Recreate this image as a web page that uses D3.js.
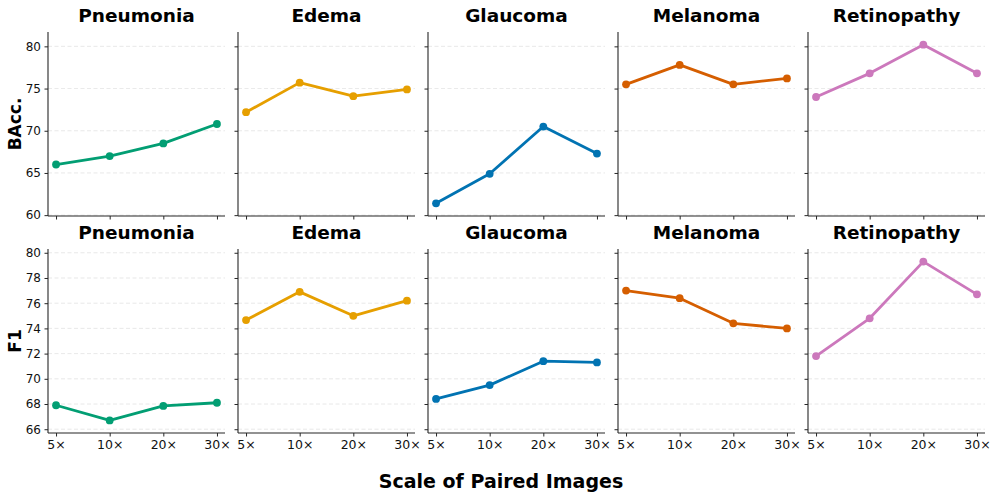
<!DOCTYPE html>
<html>
<head>
<meta charset="utf-8">
<script src="https://cdn.jsdelivr.net/npm/d3@7"></script>
<style>
  body { margin: 0; background: #fff; }
  svg { display: block; font-family: "DejaVu Sans", sans-serif; }
</style>
</head>
<body>
<svg id="chart" width="997" height="499"></svg>
<script>
const datasets = ["Pneumonia", "Edema", "Glaucoma", "Melanoma", "Retinopathy"];
const scales = ["5×", "10×", "20×", "30×"];
const colors = ["#029e73", "#e69f00", "#0173b2", "#d55e00", "#cc78bc"];

const baccPneumonia = [66.0, 67.0, 68.5, 70.8];
const baccEdema = [72.2, 75.7, 74.1, 74.9];
const baccGlaucoma = [61.4, 64.9, 70.5, 67.3];
const baccMelanoma = [75.5, 77.8, 75.5, 76.2];
const baccRetinopathy = [74.0, 76.8, 80.2, 76.8];

const f1Pneumonia = [67.9, 66.7, 67.85, 68.1];
const f1Edema = [74.66, 76.9, 75.0, 76.2];
const f1Glaucoma = [68.4, 69.5, 71.4, 71.3];
const f1Melanoma = [77.0, 76.4, 74.4, 74.0];
const f1Retinopathy = [71.8, 74.8, 79.3, 76.7];

const baccTicks = [60, 65, 70, 75, 80];
const f1Ticks = [66, 68, 70, 72, 74, 76, 78, 80];

const rows = [
  { label: "BAcc.", series: [baccPneumonia, baccEdema, baccGlaucoma, baccMelanoma, baccRetinopathy],
    domain: [59.9, 81.7], ticks: baccTicks, top: 32, bottom: 216, showX: false },
  { label: "F1", series: [f1Pneumonia, f1Edema, f1Glaucoma, f1Melanoma, f1Retinopathy],
    domain: [65.7, 80.3], ticks: f1Ticks, top: 249, bottom: 433, showX: true }
];

const svg = d3.select("#chart");
const panelLefts = [48, 238, 428, 618, 808];
const panelW = 177;
const ink = "#262626";

rows.forEach((row, ri) => {
  const y = d3.scaleLinear().domain(row.domain).range([row.bottom, row.top]);
  datasets.forEach((name, ci) => {
    const x0 = panelLefts[ci];
    const x = d3.scaleLinear().domain([-0.15, 3.15]).range([x0, x0 + panelW]);
    const g = svg.append("g");

    // grid
    g.selectAll("line.grid").data(row.ticks).enter().append("line")
      .attr("x1", x0).attr("x2", x0 + panelW)
      .attr("y1", d => y(d)).attr("y2", d => y(d))
      .attr("stroke", "#dddddd").attr("stroke-width", 0.8)
      .attr("stroke-dasharray", "4,2.5").attr("opacity", 0.8);

    // y axis
    const yAxis = d3.axisLeft(y).tickValues(row.ticks).tickSize(3.5).tickPadding(3.5)
      .tickFormat(ci === 0 ? d3.format("d") : "");
    const ya = g.append("g").attr("transform", `translate(${x0},0)`).call(yAxis);
    ya.select(".domain").attr("d", `M0,${row.top}V${row.bottom}`).attr("stroke", ink).attr("stroke-width", 1.1);
    ya.selectAll(".tick line").attr("stroke", ink).attr("stroke-width", 1);
    ya.selectAll(".tick text").attr("font-size", 12).attr("fill", "#111").attr("font-family", "DejaVu Sans");

    // x axis
    const xAxis = d3.axisBottom(x).tickValues([0, 1, 2, 3]).tickSize(3.5).tickPadding(3.5)
      .tickFormat(row.showX ? (d => scales[d]) : "");
    const xa = g.append("g").attr("transform", `translate(0,${row.bottom})`).call(xAxis);
    xa.select(".domain").attr("d", `M${x0},0H${x0 + panelW}`).attr("stroke", ink).attr("stroke-width", 1.1);
    xa.selectAll(".tick line").attr("stroke", ink).attr("stroke-width", 1);
    xa.selectAll(".tick text").attr("font-size", 12.5).attr("fill", "#111").attr("font-family", "DejaVu Sans");

    // line
    const vals = row.series[ci];
    const line = d3.line().x((d, i) => x(i)).y(d => y(d));
    g.append("path").datum(vals).attr("d", line)
      .attr("fill", "none").attr("stroke", colors[ci]).attr("stroke-width", 2.8)
      .attr("stroke-linejoin", "round");
    g.selectAll("circle").data(vals).enter().append("circle")
      .attr("cx", (d, i) => x(i)).attr("cy", d => y(d)).attr("r", 3.9)
      .attr("fill", colors[ci]);

    // title
    g.append("text").attr("x", x0 + panelW / 2).attr("y", row.top - 10)
      .attr("text-anchor", "middle").attr("font-size", 18.5).attr("font-weight", "bold")
      .attr("fill", "#000").text(name);
  });

  // row label
  const cy = (row.top + row.bottom) / 2;
  svg.append("text").attr("transform", `translate(21,${cy}) rotate(-90)`)
    .attr("text-anchor", "middle").attr("font-size", 17).attr("font-weight", "bold")
    .attr("fill", "#000").text(row.label);
});

svg.append("text").attr("x", 501).attr("y", 488).attr("text-anchor", "middle")
  .attr("font-size", 19).attr("font-weight", "bold").attr("fill", "#000")
  .text("Scale of Paired Images");
</script>
</body>
</html>
